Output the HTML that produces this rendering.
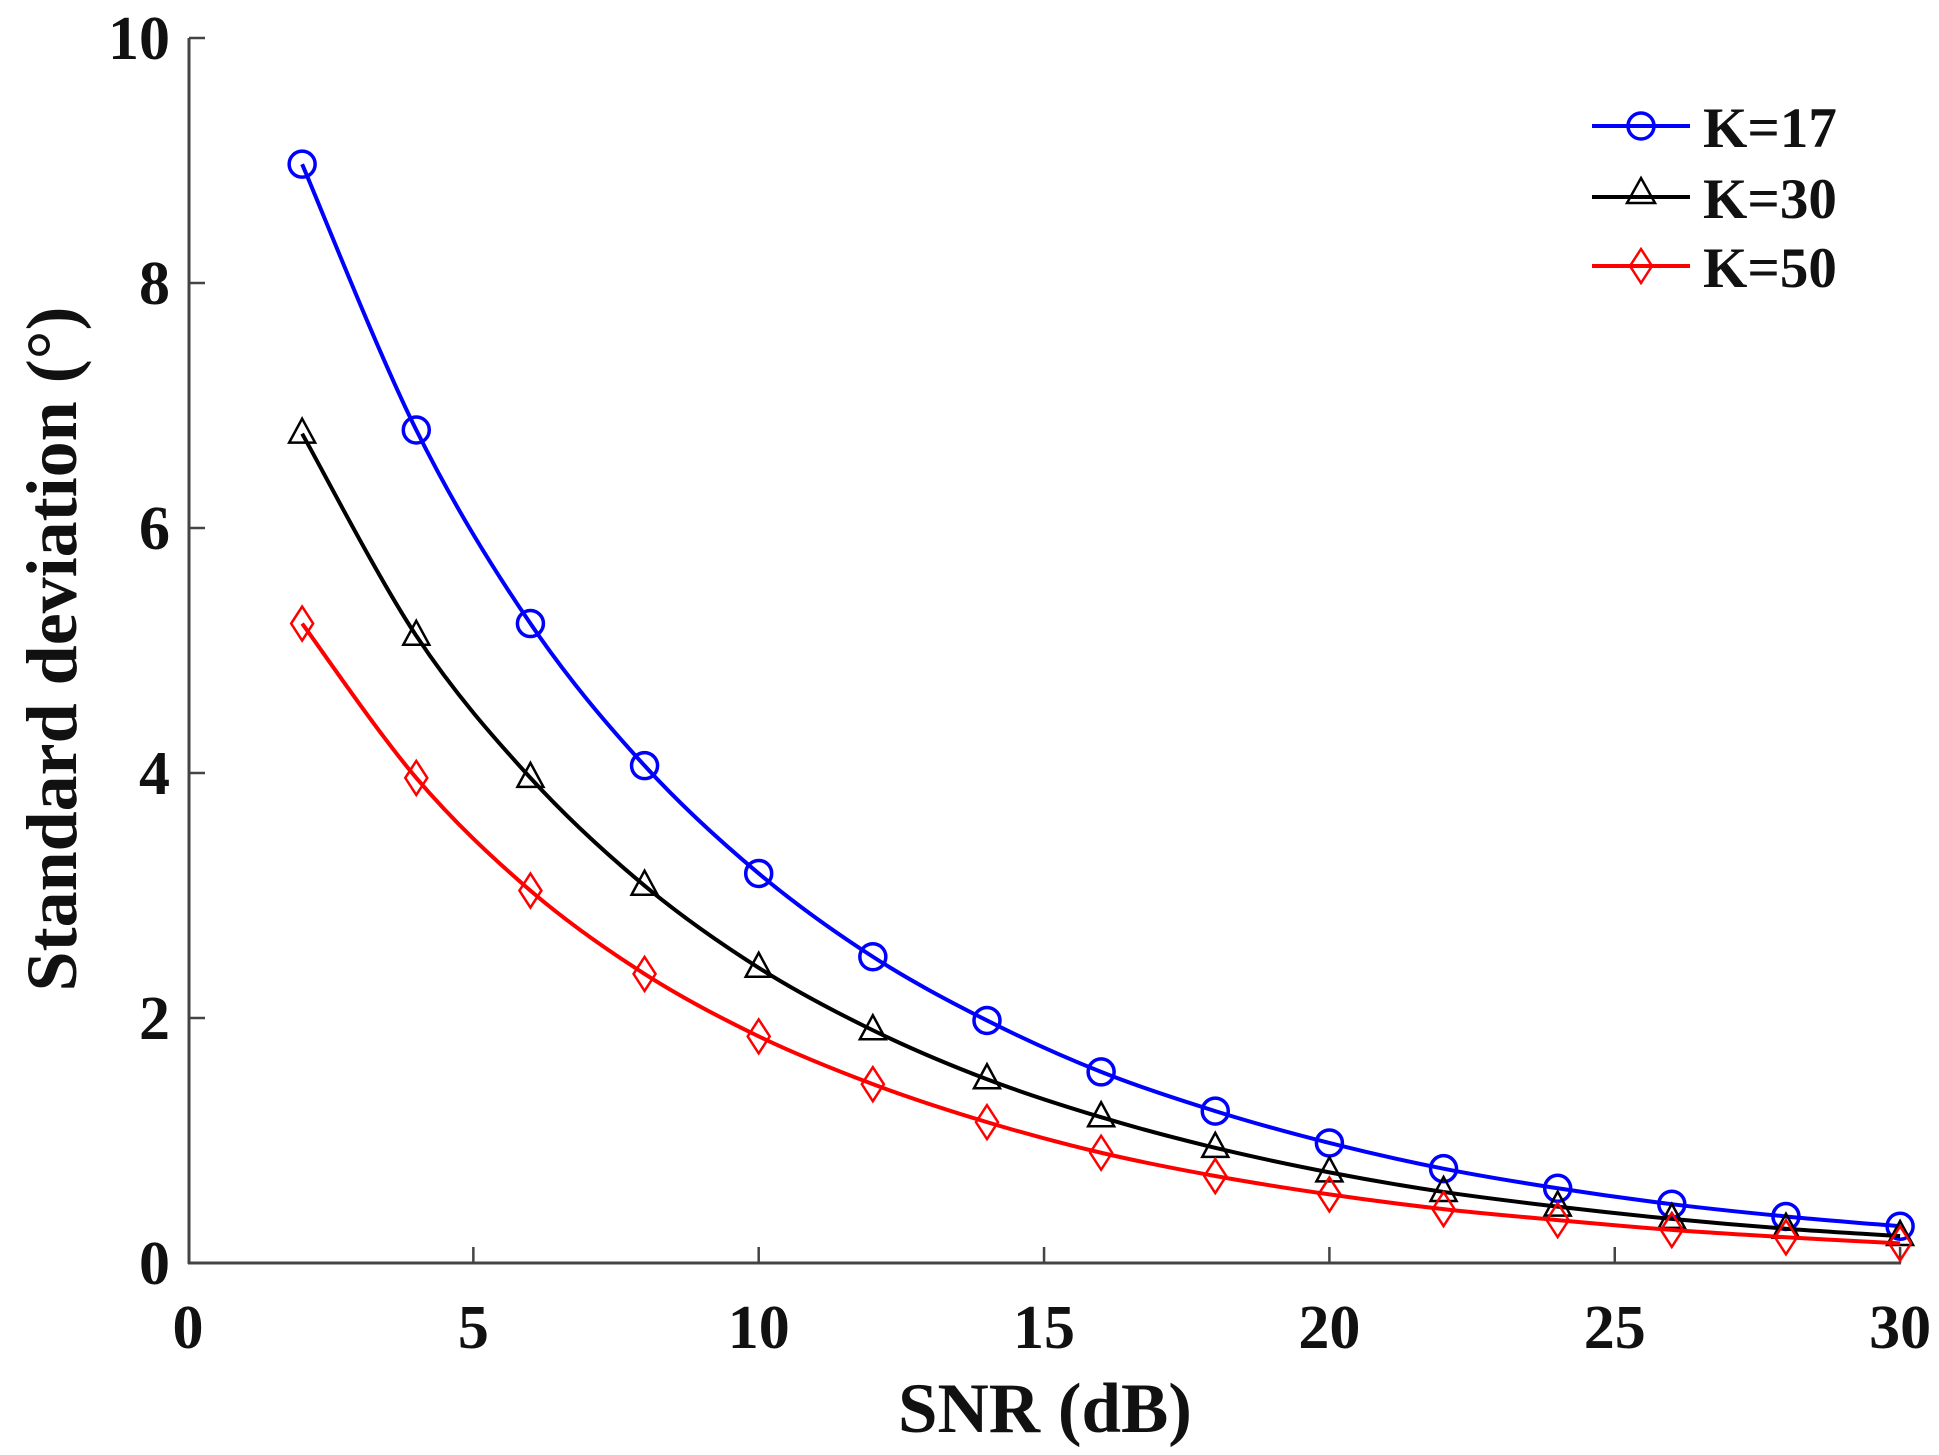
<!DOCTYPE html>
<html><head><meta charset="utf-8"><style>
html,body{margin:0;padding:0;background:#fff;}
svg{display:block;}
text{font-family:"Liberation Serif",serif;font-weight:bold;fill:#111;}
</style></head><body>
<svg id="s" width="1939" height="1455" viewBox="0 0 1939 1455" xmlns="http://www.w3.org/2000/svg">
<g stroke="#444" stroke-width="3" fill="none">
<line x1="189" y1="38" x2="189" y2="1264"/>
<line x1="188" y1="1263" x2="1901" y2="1263"/>
</g>
<g id="ticks" stroke="#444" stroke-width="2.5"></g>
<g font-size="62" text-anchor="end" id="yl"></g>
<g font-size="62" text-anchor="middle" id="xl"></g>
<text x="1045" y="1432" font-size="71" text-anchor="middle">SNR (dB)</text>
<text transform="translate(76,649) rotate(-90)" font-size="72" text-anchor="middle">Standard deviation (°)</text>
<g id="series"></g>
<g id="legend">
<line x1="1592" y1="126" x2="1690" y2="126" stroke="#00f" stroke-width="4"/>
<circle cx="1641" cy="126" r="13" fill="none" stroke="#00f" stroke-width="3.5"/>
<line x1="1592" y1="197" x2="1690" y2="197" stroke="#000" stroke-width="4"/>
<path d="M1641,178 L1655,203 L1627,203 Z" fill="none" stroke="#000" stroke-width="2.5"/>
<line x1="1592" y1="266" x2="1690" y2="266" stroke="#f00" stroke-width="4"/>
<path d="M1641,249 L1652,266 L1641,283 L1630,266 Z" fill="none" stroke="#f00" stroke-width="2.5"/>
<text x="1703" y="147" font-size="57">K=17</text>
<text x="1703" y="218" font-size="57">K=30</text>
<text x="1703" y="287" font-size="57">K=50</text>
</g>
</svg>
<script>
const NS="http://www.w3.org/2000/svg";
const X=v=>188+v*57.07, Y=v=>1263-v*122.5;
function el(t,a,p){const e=document.createElementNS(NS,t);for(const k in a)e.setAttribute(k,a[k]);p.appendChild(e);return e;}
const tk=document.getElementById('ticks'),yl=document.getElementById('yl'),xl=document.getElementById('xl');
for(let v=0;v<=10;v+=2){const y=Y(v);el('line',{x1:189,y1:y,x2:205,y2:y},tk);const t=el('text',{x:170,y:y+21},yl);t.textContent=v;}
for(let v=0;v<=30;v+=5){const x=X(v);if(v>0)el('line',{x1:x,y1:1263,x2:x,y2:1247},tk);const t=el('text',{x:x,y:1348},xl);t.textContent=v;}
const xs=[];for(let i=2;i<=30;i+=2)xs.push(i);
const D=[
["#00f","c",[8.97,6.8,5.22,4.06,3.18,2.5,1.98,1.56,1.24,0.98,0.77,0.61,0.48,0.38,0.3]],
["#000","t",[6.77,5.12,3.96,3.08,2.41,1.9,1.5,1.19,0.94,0.74,0.58,0.46,0.36,0.28,0.22]],
["#f00","d",[5.22,3.96,3.04,2.36,1.85,1.46,1.15,0.9,0.71,0.56,0.44,0.35,0.27,0.21,0.16]]];
const sg=document.getElementById('series');
D.forEach(([c,m,ys])=>{
 const P=xs.map((x,i)=>[X(x),Y(ys[i])]);
 let d="M"+P[0];
 for(let i=0;i<P.length-1;i++){
  const p0=P[Math.max(0,i-1)],p1=P[i],p2=P[i+1],p3=P[Math.min(P.length-1,i+2)];
  const c1=[p1[0]+(p2[0]-p0[0])/6,p1[1]+(p2[1]-p0[1])/6],c2=[p2[0]-(p3[0]-p1[0])/6,p2[1]-(p3[1]-p1[1])/6];
  d+=" C"+c1+" "+c2+" "+p2;
 }
 el('path',{d:d,fill:"none",stroke:c,"stroke-width":4},sg);
 P.forEach(([x,y])=>{
  if(m=="c")el('circle',{cx:x,cy:y,r:13,fill:"none",stroke:c,"stroke-width":3.5},sg);
  else if(m=="t")el('path',{d:`M${x},${y-15} L${x+13},${y+9} L${x-13},${y+9} Z`,fill:"none",stroke:c,"stroke-width":2.5},sg);
  else el('path',{d:`M${x},${y-17} L${x+11},${y} L${x},${y+17} L${x-11},${y} Z`,fill:"none",stroke:c,"stroke-width":2.5},sg);
 });
});
</script>
</body></html>
